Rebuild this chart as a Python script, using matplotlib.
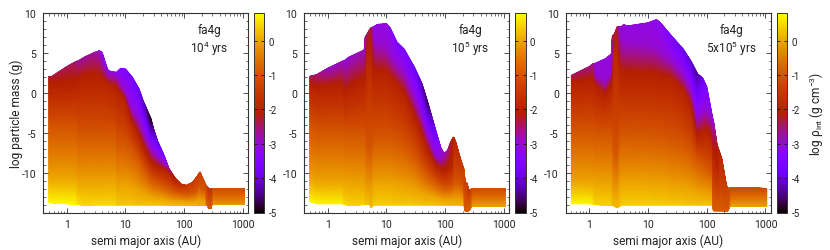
import numpy as np
import matplotlib
matplotlib.use("Agg")
import matplotlib.pyplot as plt
from matplotlib.colors import LinearSegmentedColormap, Normalize
from matplotlib.cm import ScalarMappable
from matplotlib.ticker import FixedLocator, NullFormatter

plt.rcParams['font.family'] = ['Roboto', 'DejaVu Sans']
plt.rcParams['mathtext.default'] = 'regular'

# each panel: one entry per column, isoN = mass where log rho_int crosses that level
p1_a    = [0.5, 0.55, 1.0, 1.48, 1.55, 2.0, 3.0, 3.6, 4.0, 4.5, 5.0, 5.6, 6.9, 7.1, 8.3, 10, 13, 17, 20, 27, 30, 35, 45, 55, 70, 90, 110, 140, 165, 172, 185, 200, 230, 245, 265, 285, 295, 1050]
p1_top  = [2.1, 2.05, 3.3, 4.0, 4.0, 4.5, 5.1, 5.3, 5.1, 3.9, 2.9, 2.7, 2.6, 2.6, 3.1, 3.0, 2.0, 0.5, -1.0, -3.2, -4.5, -6.0, -7.8, -9.5, -10.7, -11.5, -11.6, -11.2, -10.5, -10.3, -9.9, -10.5, -11.5, -11.8, -12.0, -12.1, -12.0, -12.0]
p1_bot  = [-13.7, -13.8, -13.9, -14.0, -14.0, -14.1, -14.05, -14.05, -14.05, -14.05, -14.05, -14.05, -14.05, -14.05, -14.05, -14.05, -14.05, -14.05, -14.05, -14.05, -14.05, -14.05, -14.05, -14.05, -14.05, -14.05, -14.05, -14.05, -14.05, -14.05, -14.05, -14.05, -14.05, -14.1, -14.5, -14.5, -14.0, -14.0]
p1_rbot = [0.75, 0.75, 0.75, 0.75, 0.55, 0.5, 0.5, 0.5, 0.5, 0.5, 0.5, 0.5, 0.5, 0.35, 0.35, 0.35, 0.35, 0.3, 0.3, 0.3, 0.3, 0.3, 0.3, 0.25, 0.25, 0.25, 0.2, 0.2, 0.2, 0.0, 0.1, 0.1, 0.1, -0.5, -0.9, -0.9, -0.1, -0.1]
p1_iso0 = [-10.5, -10.5, -10.5, -10.5, -11.0, -11.0, -11.0, -11.0, -11.0, -11.0, -11.0, -11.0, -11.0, -11.5, -11.5, -11.5, -11.8, -12.2, -12.5, -12.8, -13.0, -13.1, -13.2, -13.4, -13.5, -13.5, -13.6, -13.6, -13.5, -13.2, -13.5, -13.5, -13.5, -14.0, -14.4, -14.4, -13.5, -13.5]
p1_iso1 = [-4.0, -4.0, -4.0, -4.0, -4.8, -4.8, -4.8, -4.8, -4.8, -4.8, -4.8, -4.8, -4.8, -5.8, -5.8, -6.0, -6.8, -8.0, -9.0, -10.5, -10.8, -11.0, -11.5, -11.8, -12.2, -12.4, -12.5, -12.3, -12.0, -11.5, -11.5, -11.8, -12.0, -13.0, -13.8, -13.8, -12.2, -12.2]
p1_iso2 = [1.0, 1.0, 1.0, 1.2, 1.5, 2.0, 2.0, 2.0, 1.8, 1.5, 1.2, 1.0, 0.8, 0.5, 0.0, -0.8, -3.6, -5.2, -6.5, -8.5, -8.8, -9.2, -9.5, -9.8, -11.0, -11.5, -11.6, -11.2, -10.5, -10.3, -9.9, -10.5, -11.5, -11.8, -12.6, -12.6, -12.0, -12.0]
p1_iso3 = [2.1, 2.05, 3.3, 4.0, 4.0, 4.5, 5.1, 5.3, 4.5, 3.5, 2.9, 2.7, 2.6, 2.2, 1.3, 0.3, -1.8, -3.2, -4.5, -6.7, -7.2, -7.8, -8.6, -9.5, -10.7, -11.5, -11.6, -11.2, -10.5, -10.3, -9.9, -10.5, -11.5, -11.8, -12.0, -12.1, -12.0, -12.0]
p1_rtop = [-2.3, -2.3, -2.4, -2.5, -2.7, -2.7, -2.7, -2.9, -3.1, -3.2, -3.2, -3.2, -3.2, -3.4, -3.4, -3.5, -3.7, -3.9, -4.1, -4.9, -4.4, -4.0, -3.6, -2.7, -2.0, -1.7, -1.5, -1.4, -1.4, -1.4, -1.4, -1.2, -1.1, -1.3, -1.6, -1.6, -1.1, -1.1]

p2_a    = [0.5, 0.65, 1.0, 1.8, 1.95, 2.3, 3.0, 4.2, 4.35, 4.6, 5.2, 5.5, 6.0, 7.0, 10, 11.5, 15, 20, 30, 40, 50, 70, 85, 97, 110, 125, 138, 150, 180, 210, 216, 235, 250, 285, 1050]
p2_top  = [2.1, 2.3, 3.1, 4.0, 4.1, 4.5, 4.9, 5.4, 7.0, 7.3, 8.0, 8.2, 8.3, 8.6, 8.7, 8.2, 6.4, 5.5, 3.2, 1.2, -1.1, -4.9, -7.0, -7.6, -7.2, -6.1, -5.5, -6.1, -8.2, -9.7, -11.3, -11.3, -12.3, -12.0, -12.0]
p2_bot  = [-13.6, -13.9, -13.9, -13.9, -14.0, -14.1, -14.1, -14.0, -14.0, -14.0, -14.0, -14.4, -14.1, -14.05, -14.05, -14.05, -14.05, -14.05, -14.05, -14.05, -14.05, -14.05, -14.05, -14.05, -14.05, -14.05, -14.05, -14.05, -14.05, -14.05, -14.8, -14.8, -14.8, -14.2, -14.2]
p2_rbot = [0.75, 0.75, 0.7, 0.7, 0.5, 0.45, 0.45, 0.45, 0.3, 0.3, 0.3, 0.2, 0.4, 0.4, 0.4, 0.4, 0.35, 0.35, 0.35, 0.3, 0.3, 0.3, 0.25, 0.25, 0.2, 0.2, 0.15, 0.15, 0.15, 0.15, -0.9, -0.9, -0.9, 0.0, 0.0]
p2_iso0 = [-10.5, -11.0, -11.0, -11.0, -11.2, -11.2, -11.2, -11.2, -11.8, -12.0, -12.2, -12.2, -11.2, -11.2, -11.2, -11.2, -11.4, -11.6, -12.0, -12.4, -12.7, -13.0, -13.2, -13.3, -13.3, -13.3, -13.2, -13.2, -13.3, -13.4, -14.7, -14.7, -14.7, -13.6, -13.6]
p2_iso1 = [-4.0, -4.5, -4.5, -4.5, -4.8, -4.8, -4.8, -4.8, -5.8, -6.2, -6.5, -6.5, -5.2, -5.2, -5.2, -5.2, -5.8, -6.2, -7.5, -9.0, -10.0, -11.0, -11.5, -11.7, -11.7, -11.5, -11.2, -11.0, -11.0, -11.5, -13.8, -13.8, -13.8, -12.2, -12.2]
p2_iso2 = [1.0, 0.5, 0.8, 1.0, 0.0, 0.5, 1.0, 1.5, 3.0, 5.0, 6.0, 6.0, 2.5, 2.5, 2.5, 2.0, 1.0, 0.0, -2.8, -5.0, -7.0, -9.0, -9.5, -9.7, -9.5, -9.0, -8.5, -8.5, -9.0, -9.7, -12.0, -12.0, -12.8, -12.0, -12.0]
p2_iso3 = [2.1, 2.0, 2.5, 2.8, 2.0, 2.5, 3.5, 5.4, 7.0, 7.3, 8.0, 8.2, 7.0, 6.5, 6.0, 5.0, 3.8, 2.8, -0.3, -2.6, -5.0, -7.8, -8.2, -8.4, -8.0, -7.0, -6.0, -6.3, -8.2, -9.7, -11.3, -11.3, -12.3, -12.0, -12.0]
p2_rtop = [-2.4, -2.5, -2.9, -2.9, -3.0, -3.0, -2.9, -2.9, -2.6, -2.4, -2.3, -2.4, -3.0, -3.1, -3.1, -3.2, -3.5, -3.6, -3.8, -4.2, -4.6, -3.8, -3.1, -2.9, -2.6, -2.2, -2.0, -1.9, -1.6, -1.3, -1.3, -1.3, -1.5, -1.1, -1.1]

p3_a    = [0.5, 1.0, 1.18, 1.25, 1.9, 2.4, 2.5, 2.7, 3.0, 3.2, 3.5, 3.9, 4.4, 10, 14, 16, 25, 40, 55, 70, 85, 100, 125, 131, 150, 180, 215, 228, 250, 600, 1050]
p3_top  = [2.2, 3.3, 3.7, 3.7, 4.3, 4.9, 7.2, 7.4, 8.3, 8.3, 8.3, 8.6, 8.4, 8.8, 9.2, 8.9, 7.2, 5.5, 3.9, 2.4, 1.9, 0.8, -3.0, -3.6, -6.5, -8.2, -11.5, -12.0, -11.9, -11.9, -12.0]
p3_bot  = [-13.9, -13.9, -14.0, -14.0, -14.1, -14.1, -14.1, -14.2, -14.4, -14.3, -14.1, -14.05, -14.05, -14.05, -14.05, -14.05, -14.05, -14.05, -14.05, -14.05, -14.05, -14.05, -14.05, -14.8, -14.8, -14.8, -14.8, -14.8, -14.2, -14.2, -14.2]
p3_rbot = [0.75, 0.75, 0.7, 0.45, 0.45, 0.45, 0.25, 0.25, 0.2, 0.3, 0.4, 0.4, 0.4, 0.4, 0.4, 0.4, 0.35, 0.35, 0.3, 0.3, 0.3, 0.3, 0.3, -0.9, -0.9, -0.9, -0.9, -0.9, 0.0, 0.0, 0.0]
p3_iso0 = [-11.0, -11.0, -11.0, -11.2, -11.2, -11.2, -12.5, -12.5, -12.8, -11.8, -11.2, -11.2, -11.2, -11.2, -11.3, -11.3, -11.6, -11.8, -12.0, -12.3, -12.5, -12.6, -12.7, -14.7, -14.7, -14.7, -14.7, -14.7, -13.6, -13.6, -13.6]
p3_iso1 = [-4.5, -4.5, -4.5, -4.8, -4.8, -4.8, -7.0, -7.0, -7.5, -5.6, -4.8, -4.8, -4.8, -4.8, -5.0, -5.0, -5.5, -6.0, -7.0, -8.0, -8.5, -9.0, -9.5, -13.0, -13.2, -13.5, -13.8, -13.8, -12.2, -12.2, -12.2]
p3_iso2 = [1.2, 1.5, 1.5, 1.0, -0.2, 1.0, 5.0, 6.0, 7.0, 4.0, 2.5, 2.3, 2.3, 2.2, 2.2, 2.0, 1.8, 0.3, -1.5, -5.4, -5.0, -4.8, -5.5, -7.5, -8.8, -9.5, -11.5, -12.0, -12.0, -12.0, -12.0]
p3_iso3 = [2.2, 3.0, 3.0, 2.5, 1.5, 3.0, 7.2, 7.4, 8.3, 7.5, 7.0, 6.5, 6.5, 6.2, 5.8, 5.4, 4.2, 2.5, 0.5, -3.0, -2.5, -2.0, -3.0, -3.6, -6.5, -8.2, -11.5, -12.0, -11.9, -11.9, -12.0]
p3_rtop = [-2.4, -2.6, -2.6, -3.0, -3.1, -3.0, -2.4, -2.3, -2.3, -3.0, -3.0, -3.1, -3.1, -3.1, -3.2, -3.2, -3.6, -3.9, -4.1, -4.4, -3.9, -3.6, -3.2, -2.9, -2.2, -1.8, -1.4, -1.2, -1.1, -1.1, -1.1]

panels = [
    (p1_a, p1_bot, p1_iso0, p1_iso1, p1_iso2, p1_iso3, p1_top, p1_rbot, p1_rtop),
    (p2_a, p2_bot, p2_iso0, p2_iso1, p2_iso2, p2_iso3, p2_top, p2_rbot, p2_rtop),
    (p3_a, p3_bot, p3_iso0, p3_iso1, p3_iso2, p3_iso3, p3_top, p3_rbot, p3_rtop),
]
iso_levels = [0, -1, -2, -3]
time_labels = ['10$^{4}$ yrs', '10$^{5}$ yrs', '5x10$^{5}$ yrs']
xticks = [1, 10, 100, 1000]
yticks = [-10, -5, 0, 5, 10]
cticks = [-5, -4, -3, -2, -1, 0]

W, H = 830., 251.
ax_x = [(43.3, 248.3), (304.3, 509.3), (565.7, 770.7)]
cb_x = [(253.5, 264.3), (515.0, 525.7), (776.7, 787.4)]
top_px, bot_px = 14.3, 213.5

# gnuplot default pm3d palette (rgbformulae 7,5,15)
xs = np.linspace(0, 1, 256)
pal = np.c_[np.sqrt(xs), xs**3, np.clip(np.sin(2*np.pi*xs), 0, 1)]
cmap = LinearSegmentedColormap.from_list('pm3d', pal, N=256)
norm = Normalize(-5, 0.8)


def mesh(a, bot, i0, i1, i2, i3, top, rbot, rtop, nx=700, ny=140):
    # resample the read columns onto a fine mesh so the palette is followed properly
    la = np.log10(a)
    lx = np.linspace(la[0], la[-1], nx)
    top = np.interp(lx, la, top)
    bot = np.interp(lx, la, bot)
    rtop = np.interp(lx, la, rtop)
    rbot = np.interp(lx, la, rbot)
    isos = [np.interp(lx, la, v) for v in (i0, i1, i2, i3)]
    f = np.linspace(0, 1, ny)
    X = np.tile(10**lx, (ny, 1))
    Y = bot + np.outer(f, top-bot)
    C = np.zeros_like(Y)
    for j in range(nx):
        yp = [bot[j]]
        cp = [rbot[j]]
        for lev, iso in zip(iso_levels, isos):
            if bot[j] < iso[j] < top[j] and iso[j] > yp[-1] and lev < cp[-1] and lev > rtop[j]:
                yp.append(iso[j])
                cp.append(lev)
        yp.append(top[j])
        cp.append(rtop[j])
        C[:, j] = np.interp(Y[:, j], yp, cp)
    return X, Y, C


fig = plt.figure(figsize=(W/100, H/100), dpi=100)
frame = '#333333'
for i, p in enumerate(panels):
    x0, x1 = ax_x[i]
    ax = fig.add_axes([x0/W, 1-bot_px/H, (x1-x0)/W, (bot_px-top_px)/H])
    X, Y, C = mesh(*p)
    ax.set_xscale('log')
    ax.pcolormesh(X, Y, C, shading='gouraud', cmap=cmap, norm=norm, rasterized=True)
    ax.set_xlim(0.4, 1230)
    ax.set_ylim(-15, 10)
    ax.set_xticks(xticks)
    ax.set_xticklabels([str(t) for t in xticks])
    ax.xaxis.set_minor_formatter(NullFormatter())
    ax.set_yticks(yticks)
    ax.set_yticklabels([str(t) for t in yticks])
    ax.yaxis.set_minor_locator(FixedLocator(np.arange(-15, 11, 1)))
    ax.tick_params(which='major', direction='in', top=True, right=True, length=3.5,
                   width=0.6, labelsize=7.5, pad=5, color=frame, labelcolor='#222222')
    ax.tick_params(which='minor', direction='in', top=True, right=True, length=1.8,
                   width=0.5, color=frame)
    for s in ax.spines.values():
        s.set_linewidth(0.8)
        s.set_color(frame)
    ax.set_xlabel('semi major axis (AU)', fontsize=8.6, color='#222222', labelpad=3)
    if i == 0:
        ax.set_ylabel('log particle mass (g)', fontsize=8.6, color='#222222', labelpad=-1)
    ax.text(0.81, 0.92, 'fa4g', transform=ax.transAxes, ha='center', va='center',
            fontsize=8.5, color='#222222')
    ax.text(0.81, 0.825, time_labels[i], transform=ax.transAxes, ha='center', va='center',
            fontsize=8.5, color='#222222')

    c0, c1 = cb_x[i]
    cax = fig.add_axes([c0/W, 1-bot_px/H, (c1-c0)/W, (bot_px-top_px)/H])
    cb = fig.colorbar(ScalarMappable(norm=norm, cmap=cmap), cax=cax)
    cb.set_ticks(cticks)
    cb.set_ticklabels([str(t) for t in cticks])
    cb.outline.set_linewidth(0.7)
    cb.outline.set_edgecolor(frame)
    cax.tick_params(direction='in', left=True, right=True, length=2.5, width=0.6,
                    labelsize=7, pad=3, color='#111111', labelcolor='#222222')
    if i == 2:
        cb.set_label('log $\\rho_{int}$ (g cm$^{-3}$)', fontsize=8.6, color='#222222', labelpad=6)

fig.savefig('out.png', dpi=100)
